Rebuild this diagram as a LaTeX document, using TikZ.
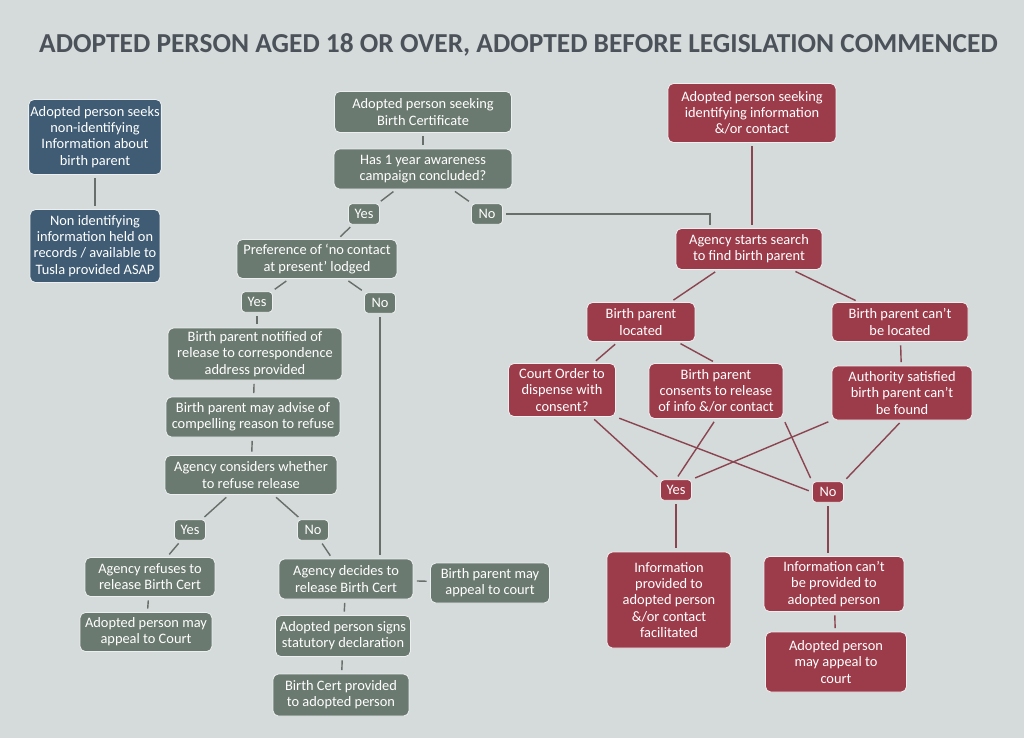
\documentclass[tikz,border=0pt]{standalone}
\usepackage{fontspec}
\setmainfont{Carlito}
\usetikzlibrary{positioning}
\definecolor{slatebg}{HTML}{D5DADB}
\definecolor{titlegrey}{HTML}{4C5259}
\definecolor{mossgrey}{HTML}{6B7A70}
\definecolor{steelblue}{HTML}{3F5C74}
\definecolor{winered}{HTML}{9C3C4A}
\definecolor{mossline}{HTML}{686E69}
\definecolor{redline}{HTML}{8A4550}

\begin{document}
\begin{tikzpicture}[
  x=0.02cm, y=-0.02cm,
  box/.style={draw=white!55!slatebg, line width=0.5pt, rounded corners=3pt, align=center, text=white,
    inner sep=1pt, font=\fontsize{8.2}{9.2}\selectfont},
  bluebox/.style={box, fill=steelblue},
  greybox/.style={box, fill=mossgrey},
  redbox/.style={box, fill=winered},
  answer/.style={minimum width=0.62cm, minimum height=0.41cm, rounded corners=2pt},
  greylink/.style={draw=mossline, line width=0.8pt, shorten <=2pt, shorten >=2pt},
  redlink/.style={draw=redline, line width=0.8pt, shorten <=2pt, shorten >=2pt}
]
\fill[slatebg] (0,0) rectangle (1024,738);
\useasboundingbox (0,0) rectangle (1024,738);

\node[anchor=west, text=titlegrey, font=\fontsize{15.6}{17}\selectfont\bfseries] (title) at (33,45)
  {ADOPTED PERSON AGED 18 OR OVER, ADOPTED BEFORE LEGISLATION COMMENCED};

% non-identifying information
\node[bluebox, minimum width=2.6cm, minimum height=1.5cm] (seeknon) at (95,137)
  {Adopted person seeks\\non-identifying\\Information about\\birth parent};
\node[bluebox, minimum width=2.6cm, minimum height=1.46cm] (heldnon) at (95,246)
  {Non identifying\\information held on\\records / available to\\Tusla provided ASAP};

% birth certificate
\node[greybox, minimum width=3.54cm, minimum height=0.82cm] (seekcert) at (423,112)
  {Adopted person seeking\\Birth Certificate};
\node[greybox, minimum width=3.56cm, minimum height=0.8cm] (campaign) at (423,169)
  {Has 1 year awareness\\campaign concluded?};
\node[greybox, answer] (yesA) at (364,214) {Yes};
\node[greybox, answer] (noA) at (487,214) {No};
\node[greybox, minimum width=3.2cm, minimum height=0.78cm] (nocontact) at (317,259)
  {Preference of `no contact\\at present' lodged};
\node[greybox, answer] (yesB) at (257,302) {Yes};
\node[greybox, answer] (noB) at (380,303) {No};
\node[greybox, minimum width=3.48cm, minimum height=1.04cm] (notified) at (255,354)
  {Birth parent notified of\\release to correspondence\\address provided};
\node[greybox, minimum width=3.48cm, minimum height=0.8cm] (advise) at (253,417)
  {Birth parent may advise of\\compelling reason to refuse};
\node[greybox, minimum width=3.44cm, minimum height=0.78cm] (considers) at (251,475)
  {Agency considers whether\\to refuse release};
\node[greybox, answer] (yesC) at (190,530) {Yes};
\node[greybox, answer] (noC) at (313,530) {No};
\node[greybox, minimum width=2.6cm, minimum height=0.78cm] (refuses) at (150,577)
  {Agency refuses to\\release Birth Cert};
\node[greybox, minimum width=2.64cm, minimum height=0.78cm] (appealA) at (146,632)
  {Adopted person may\\appeal to Court};
\node[greybox, minimum width=2.68cm, minimum height=0.8cm] (decides) at (346,579)
  {Agency decides to\\release Birth Cert};
\node[greybox, minimum width=2.38cm, minimum height=0.8cm] (appealB) at (490,583)
  {Birth parent may\\appeal to court};
\node[greybox, minimum width=2.7cm, minimum height=0.82cm] (signs) at (343,636)
  {Adopted person signs\\statutory declaration};
\node[greybox, minimum width=2.72cm, minimum height=0.84cm] (provided) at (341,695)
  {Birth Cert provided\\to adopted person};

% identifying information
\node[redbox, minimum width=3.36cm, minimum height=1.18cm] (seekid) at (752,113)
  {Adopted person seeking\\identifying information\\\&/or contact};
\node[redbox, minimum width=2.92cm, minimum height=0.82cm] (search) at (749,249)
  {Agency starts search\\to find birth parent};
\node[redbox, minimum width=2.16cm, minimum height=0.78cm] (located) at (641,322)
  {Birth parent\\located};
\node[redbox, minimum width=2.72cm, minimum height=0.78cm] (notlocated) at (900,322)
  {Birth parent can't\\be located};
\node[redbox, minimum width=2.14cm, minimum height=1.06cm] (courtorder) at (562,390)
  {Court Order to\\dispense with\\consent?};
\node[redbox, minimum width=2.68cm, minimum height=1.1cm] (consents) at (716,391)
  {Birth parent\\consents to release\\of info \&/or contact};
\node[redbox, minimum width=2.8cm, minimum height=1.08cm] (satisfied) at (902,393)
  {Authority satisfied\\birth parent can't\\be found};
\node[redbox, answer] (yesR) at (676,490) {Yes};
\node[redbox, answer] (noR) at (828,492) {No};
\node[redbox, minimum width=2.48cm, minimum height=1.92cm] (infoyes) at (669,600)
  {Information\\provided to\\adopted person\\\&/or contact\\facilitated};
\node[redbox, minimum width=2.8cm, minimum height=1.1cm] (infono) at (834,584)
  {Information can't\\be provided to\\adopted person};
\node[redbox, minimum width=2.82cm, minimum height=1.2cm] (appealR) at (836,662)
  {Adopted person\\may appeal to\\court};

\draw[greylink] (seeknon) -- (heldnon);

\draw[greylink] (seekcert) -- (campaign);
\draw[greylink] (campaign) -- (yesA);
\draw[greylink] (campaign) -- (noA);
\draw[greylink] (noA.east) -| ([xshift=-0.78cm]search.north);
\draw[greylink] (yesA) -- (nocontact);
\draw[greylink] (nocontact) -- (yesB);
\draw[greylink] (nocontact) -- (noB);
\draw[greylink] (yesB) -- (yesB |- notified.north);
\draw[greylink] (noB) -- (noB |- decides.north);
\draw[greylink] (notified) -- (advise);
\draw[greylink] (advise) -- (considers);
\draw[greylink] (considers) -- (yesC);
\draw[greylink] (considers) -- (noC);
\draw[greylink] (yesC) -- (refuses);
\draw[greylink] (noC) -- (decides);
\draw[greylink] (refuses) -- (appealA);
\draw[greylink] (decides) -- (appealB);
\draw[greylink] (decides) -- (signs);
\draw[greylink] (signs) -- (provided);

\draw[redlink] (seekid) -- (seekid.south |- search.north);
\draw[redlink] (search) -- (located);
\draw[redlink] (search) -- (notlocated);
\draw[redlink] (located) -- (courtorder);
\draw[redlink] (located) -- (consents.north);
\draw[redlink] (notlocated) -- (satisfied);
\draw[redlink] (courtorder) -- (yesR.north west);
\draw[redlink] (courtorder.south east) -- (noR.west);
\draw[redlink] (consents.south) -- (yesR.north);
\draw[redlink] (consents.south east) -- (noR.north west);
\draw[redlink] (satisfied.south west) -- (yesR.north east);
\draw[redlink] (satisfied.south) -- (noR.north east);
\draw[redlink] (yesR) -- (yesR |- infoyes.north);
\draw[redlink] (noR) -- (noR |- infono.north);
\draw[redlink] (infono) -- (appealR);

\end{tikzpicture}
\end{document}
